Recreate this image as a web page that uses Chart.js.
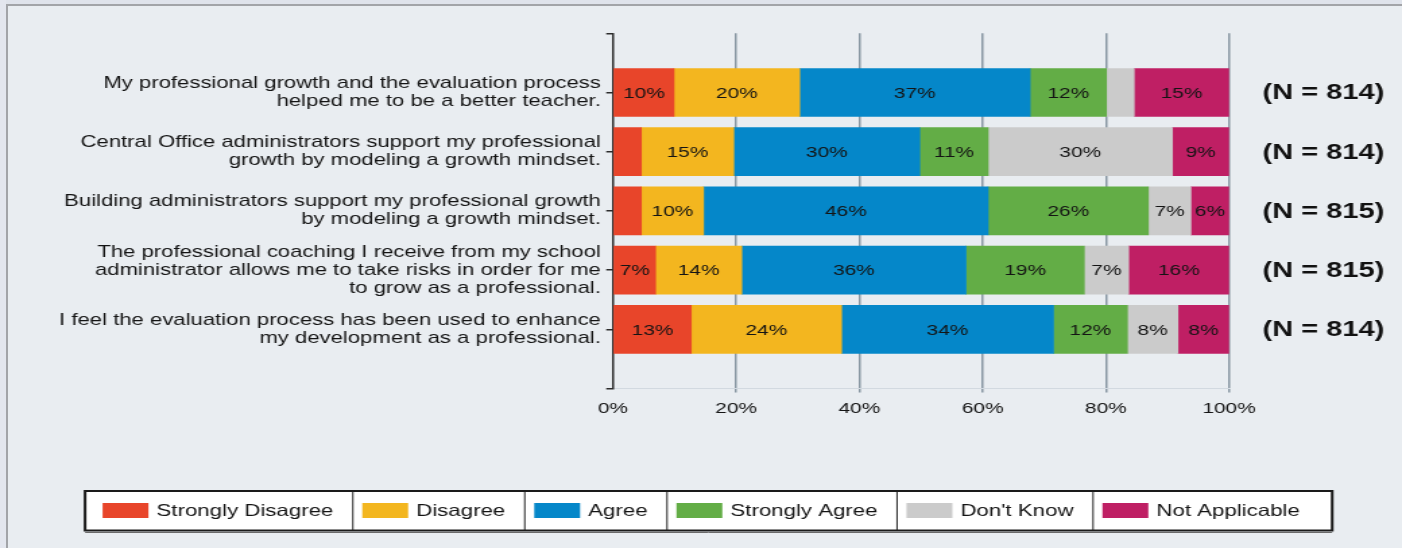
<!DOCTYPE html>
<html>
<head>
<meta charset="utf-8">
<script src="https://cdn.jsdelivr.net/npm/chart.js@4.4.1/dist/chart.umd.min.js"></script>
<style>
    html, body { margin: 0; padding: 0; background: #e9edf1; overflow: hidden; }
    #wrap { position: relative; width: 1402px; height: 548px; }
    .strip-top { position: absolute; left: 0; top: 0; width: 1402px; height: 4px; background: #dfe3eb; }
    .line-top { position: absolute; left: 6px; top: 4px; width: 1396px; height: 2px; background: #a2a4a8; }
    .strip-left { position: absolute; left: 0; top: 0; width: 6px; height: 548px; background: #e3e6ee; }
    .line-left { position: absolute; left: 6px; top: 4px; width: 2px; height: 544px; background: #a2a4a8; }
    #chart { position: absolute; left: 0; top: 0; transform-origin: 0 0; }
</style>
</head>
<body>
<div id="wrap">
    <div class="strip-top"></div>
    <div class="strip-left"></div>
    <div class="line-top"></div>
    <div class="line-left"></div>
    <canvas id="chart" width="1040" height="548" style="width:1040px;height:548px;"></canvas>
</div>
<script>
// survey statements (one entry per bar, multi-line)
const categories = [
    ["My professional growth and the evaluation process", "helped me to be a better teacher."],
    ["Central Office administrators support my professional", "growth by modeling a growth mindset."],
    ["Building administrators support my professional growth", "by modeling a growth mindset."],
    ["The professional coaching I receive from my school", "administrator allows me to take risks in order for me", "to grow as a professional."],
    ["I feel the evaluation process has been used to enhance", "my development as a professional."]
];

const responseLabels = ["Strongly Disagree", "Disagree", "Agree", "Strongly Agree", "Don't Know", "Not Applicable"];
const responseColors = ["#e8452a", "#f3b61f", "#0587c9", "#63ad46", "#cbcbcb", "#bf1f64"];

// percent of respondents
const stronglyDisagree = [9.9, 4.6, 4.6, 6.9, 12.7];
const disagree         = [20.4, 15.0, 10.1, 14.0, 24.4];
const agree            = [37.4, 30.2, 46.2, 36.4, 34.4];
const stronglyAgree    = [12.4, 11.1, 26.0, 19.2, 12.0];
const dontKnow         = [4.5, 29.9, 6.9, 7.2, 8.2];
const notApplicable    = [15.4, 9.2, 6.2, 16.3, 8.3];

const respondents = [814, 814, 815, 815, 814];
const xTicks = [0, 20, 40, 60, 80, 100];

// the reference is stretched sideways, so draw narrow and scale the canvas
const STRETCH = 1402 / 1040;
document.getElementById("chart").style.transform = "scaleX(" + STRETCH + ")";

const FONT = "'Liberation Sans', Arial, sans-serif";
const TEXT = "#141414";
const GRID = "#8796a2";
const AXIS = "#2c2c2c";

const series = [stronglyDisagree, disagree, agree, stronglyAgree, dontKnow, notApplicable];

// empty slots above and below so the axis runs past the first/last bar
const labels = [""].concat(categories, [""]);
const datasets = series.map((vals, i) => ({
    label: responseLabels[i],
    data: [null].concat(vals, [null]),
    backgroundColor: responseColors[i],
    borderWidth: 0,
    barThickness: 48
}));

const barLabels = {
    id: "barLabels",
    afterDatasetsDraw(chart) {
        const ctx = chart.ctx;
        ctx.save();
        ctx.font = "15.5px " + FONT;
        ctx.fillStyle = TEXT;
        ctx.textAlign = "center";
        ctx.textBaseline = "middle";
        chart.data.datasets.forEach((ds, di) => {
            chart.getDatasetMeta(di).data.forEach((el, i) => {
                const v = ds.data[i];
                if (v == null || v < 5.5) return;
                ctx.fillText(Math.round(v) + "%", (el.x + el.base) / 2, el.y + 1);
            });
        });

        // respondent counts to the right of each bar
        ctx.font = "bold 21.5px " + FONT;
        ctx.fillStyle = "#111";
        const yScale = chart.scales.y;
        respondents.forEach((n, i) => {
            const y = yScale.getPixelForValue(i + 1);
            ctx.fillText("(N = " + n + ")", chart.chartArea.right + 70, y + 1);
        });
        ctx.restore();
    }
};

const boxLegend = {
    id: "boxLegend",
    afterDraw(chart) {
        const ctx = chart.ctx;
        const top = 491, bottom = 530.5, left = 63.1;
        ctx.save();
        ctx.font = "16.5px " + FONT;
        const cells = chart.data.datasets.map((ds, i) => {
            const tw = ctx.measureText(ds.label).width;
            const padL = i === 0 ? 13 : 7;
            const padR = i === chart.data.datasets.length - 1 ? 24 : 14.5;
            return { ds, tw, padL, w: padL + 34 + 6 + tw + padR };
        });
        const total = cells.reduce((s, c) => s + c.w, 0);
        ctx.fillStyle = "#ffffff";
        ctx.fillRect(left, top, total, bottom - top);

        let x = left;
        cells.forEach((c, i) => {
            if (i > 0) {
                ctx.strokeStyle = "#222";
                ctx.lineWidth = 1;
                ctx.beginPath();
                ctx.moveTo(x, top);
                ctx.lineTo(x, bottom);
                ctx.stroke();
            }
            const sx = x + c.padL;
            ctx.fillStyle = c.ds.backgroundColor;
            ctx.fillRect(sx, 503, 34, 15);
            ctx.fillStyle = TEXT;
            ctx.textAlign = "left";
            ctx.textBaseline = "middle";
            ctx.fillText(c.ds.label, sx + 40, 511);
            x += c.w;
        });

        ctx.strokeStyle = "#1a1a1a";
        ctx.lineWidth = 2;
        ctx.strokeRect(left, top, total, bottom - top);
        ctx.strokeStyle = "#6a6a6a";
        ctx.lineWidth = 1;
        ctx.beginPath();
        ctx.moveTo(left, bottom + 2);
        ctx.lineTo(left + total, bottom + 2);
        ctx.stroke();
        ctx.restore();
    }
};

new Chart(document.getElementById("chart"), {
    type: "bar",
    data: { labels: labels, datasets: datasets },
    plugins: [barLabels, boxLegend],
    options: {
        indexAxis: "y",
        responsive: false,
        devicePixelRatio: 1,
        animation: false,
        layout: { padding: { top: 33.3, right: 1040 - 911.7, left: 0, bottom: 0 } },
        plugins: {
            legend: { display: false },
            tooltip: { enabled: false }
        },
        scales: {
            x: {
                stacked: true,
                min: 0,
                max: 100,
                afterBuildTicks: s => { s.ticks = xTicks.map(v => ({ value: v })); },
                afterFit: s => { s.height = 548 - 388.5; },
                border: { display: true, color: "#d2d9e0", width: 1 },
                grid: {
                    color: ctx => ctx.tick && ctx.tick.value === 0 ? "rgba(0,0,0,0)" : GRID,
                    lineWidth: 1.5,
                    tickLength: 4
                },
                ticks: {
                    color: TEXT,
                    font: { family: FONT, size: 15.5 },
                    padding: 7,
                    maxRotation: 0,
                    callback: v => v + "%"
                }
            },
            y: {
                stacked: true,
                offset: false,
                afterFit: s => { s.width = 454.7; },
                border: { display: true, color: AXIS, width: 1.5 },
                grid: {
                    offset: false,
                    drawOnChartArea: false,
                    drawTicks: true,
                    tickLength: 5,
                    color: AXIS,
                    lineWidth: 1.5
                },
                ticks: {
                    color: TEXT,
                    font: { family: FONT, size: 16.4, lineHeight: 1.1 },
                    padding: 4,
                    autoSkip: false
                }
            }
        }
    }
});
</script>
</body>
</html>
